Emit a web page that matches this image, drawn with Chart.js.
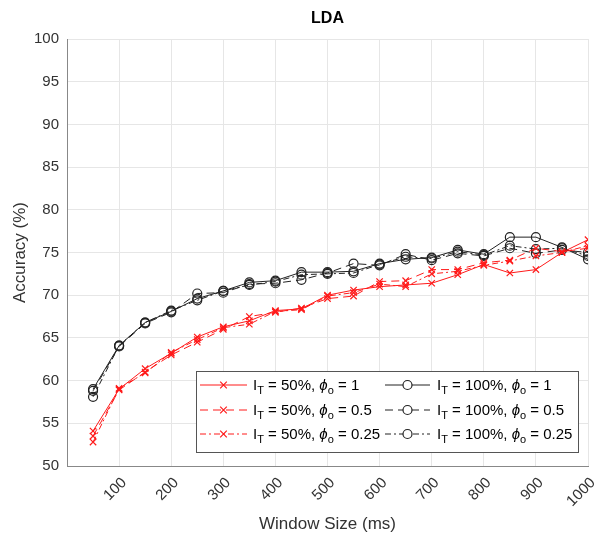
<!DOCTYPE html>
<html>
<head>
<meta charset="utf-8">
<script src="https://cdn.jsdelivr.net/npm/chart.js@4"></script>
<style>
  html, body { margin: 0; padding: 0; background: #fff; }
  #wrap { width: 598px; height: 541px; }
</style>
</head>
<body>
<div id="wrap"><canvas id="ldaChart"></canvas></div>
<script>
// Window sizes (ms)
const windowSizes = [50, 100, 150, 200, 250, 300, 350, 400, 450, 500,
  550, 600, 650, 700, 750, 800, 850, 900, 950, 1000];

// I_T = 50%
const red50_1 = [54.1, 59.0, 61.4, 63.2, 65.1, 66.3, 67.0, 68.2, 68.4, 70.0,
  70.6, 71.0, 71.2, 71.4, 72.4, 73.6, 72.6, 73.0, 75.0, 76.5];
const red50_05 = [53.5, 58.9, 61.0, 63.0, 64.5, 66.0, 67.5, 68.0, 68.5, 69.6,
  69.9, 71.6, 71.7, 73.0, 73.0, 73.8, 74.1, 75.5, 75.1, 75.5];
const red50_025 = [52.8, 59.1, 60.9, 63.3, 64.8, 66.2, 66.6, 68.1, 68.3, 69.9,
  70.3, 71.3, 71.0, 72.5, 72.8, 73.5, 74.0, 74.6, 75.0, 75.8];

// I_T = 100%
const blk100_1 = [59.0, 64.1, 66.8, 68.1, 69.6, 70.5, 71.5, 71.7, 72.7, 72.7,
  72.8, 73.7, 74.2, 74.4, 75.3, 74.8, 76.8, 76.8, 75.6, 74.2];
const blk100_05 = [58.8, 64.0, 66.7, 68.0, 70.2, 70.3, 71.3, 71.4, 71.8, 72.6,
  73.7, 73.5, 74.8, 74.1, 74.9, 74.6, 75.5, 74.9, 75.3, 75.0];
const blk100_025 = [58.1, 64.1, 66.8, 68.2, 69.4, 70.5, 71.2, 71.6, 72.4, 72.5,
  72.6, 73.6, 74.5, 74.3, 75.1, 74.7, 75.8, 75.4, 75.5, 74.6];

const xTicks = [100, 200, 300, 400, 500, 600, 700, 800, 900, 1000];

const FONT = "'Liberation Sans', Arial, Helvetica, sans-serif";
const RED = "#ff1a1a";
const BLACK = "#222222";

const seriesDefs = [
  { data: red50_1, color: RED, dash: [], marker: "crossRot", pct: "50%", phi: "1" },
  { data: red50_05, color: RED, dash: [8, 5], marker: "crossRot", pct: "50%", phi: "0.5" },
  { data: red50_025, color: RED, dash: [6, 3, 2, 3], marker: "crossRot", pct: "50%", phi: "0.25" },
  { data: blk100_1, color: BLACK, dash: [], marker: "circle", pct: "100%", phi: "1" },
  { data: blk100_05, color: BLACK, dash: [8, 5], marker: "circle", pct: "100%", phi: "0.5" },
  { data: blk100_025, color: BLACK, dash: [6, 3, 2, 3], marker: "circle", pct: "100%", phi: "0.25" },
];

const datasets = seriesDefs.map(function (s) {
  return {
    data: s.data.map(function (v, i) { return { x: windowSizes[i], y: v }; }),
    borderColor: s.color,
    borderWidth: 1,
    borderDash: s.dash,
    pointStyle: s.marker,
    pointRadius: 4.5,
    pointBorderColor: s.color,
    pointBackgroundColor: "rgba(0,0,0,0)",
    pointBorderWidth: 1.2,
    tension: 0,
    fill: false,
  };
});

// draws title and the MATLAB-style legend with subscripts
const decorPlugin = {
  id: "decor",
  afterDraw: function (chart) {
    const ctx = chart.ctx;
    const area = chart.chartArea;
    ctx.save();
    ctx.fillStyle = "#000";
    ctx.font = "bold 16px " + FONT;
    ctx.textAlign = "center";
    ctx.textBaseline = "middle";
    ctx.fillText("LDA", (area.left + area.right) / 2, 19);

    // legend box
    const bx = 196, by = 371, bw = 382, bh = 81;
    ctx.fillStyle = "#fff";
    ctx.fillRect(bx, by, bw, bh);
    ctx.strokeStyle = "#555";
    ctx.lineWidth = 1;
    ctx.setLineDash([]);
    ctx.strokeRect(bx + 0.5, by + 0.5, bw, bh);

    const rows = [385, 410, 434];
    const cols = [{ x0: 200, x1: 247, tx: 253 }, { x0: 385, x1: 430, tx: 437 }];
    seriesDefs.forEach(function (s, i) {
      const col = cols[Math.floor(i / 3)];
      const y = rows[i % 3];
      ctx.strokeStyle = s.color;
      ctx.lineWidth = 1;
      ctx.setLineDash(s.dash);
      ctx.beginPath();
      ctx.moveTo(col.x0, y);
      ctx.lineTo(col.x1, y);
      ctx.stroke();
      ctx.setLineDash([]);
      const mx = (col.x0 + col.x1) / 2;
      ctx.lineWidth = 1.2;
      if (s.marker === "circle") {
        ctx.fillStyle = "#fff";
        ctx.beginPath();
        ctx.arc(mx, y, 4.5, 0, Math.PI * 2);
        ctx.fill();
        ctx.stroke();
      } else {
        const r = 3.3;
        ctx.beginPath();
        ctx.moveTo(mx - r, y - r); ctx.lineTo(mx + r, y + r);
        ctx.moveTo(mx + r, y - r); ctx.lineTo(mx - r, y + r);
        ctx.stroke();
      }
      // text with subscripts
      ctx.fillStyle = "#000";
      ctx.textAlign = "left";
      ctx.textBaseline = "alphabetic";
      let x = col.tx;
      const base = y + 5;
      const part = function (txt, font, dy) {
        ctx.font = font;
        ctx.fillText(txt, x, base + dy);
        x += ctx.measureText(txt).width;
      };
      part("I", "15px " + FONT, 0);
      part("T", "11px " + FONT, 4);
      part(" = " + s.pct + ", ", "15px " + FONT, 0);
      part("\u03d5", "italic 15px " + FONT, 0);
      part("o", "11px " + FONT, 4);
      part(" = " + s.phi, "15px " + FONT, 0);
    });
    ctx.restore();
  },
};

document.addEventListener("DOMContentLoaded", function () {
  const ctx = document.getElementById("ldaChart").getContext("2d");
  new Chart(ctx, {
    type: "line",
    data: { datasets: datasets },
    options: {
      responsive: true,
      maintainAspectRatio: false,
      animation: false,
      layout: { padding: { top: 39, right: 10, bottom: 0, left: 0 } },
      plugins: {
        legend: { display: false },
        title: { display: false },
        tooltip: { enabled: false },
      },
      scales: {
        x: {
          type: "linear",
          min: 0,
          max: 1000,
          afterBuildTicks: function (axis) {
            axis.ticks = xTicks.map(function (v) { return { value: v }; });
          },
          afterFit: function (axis) {
            axis.height = 75;
            axis.paddingRight = 0;
            axis.paddingLeft = 0;
          },
          ticks: {
            minRotation: 45,
            maxRotation: 45,
            padding: 8,
            labelOffset: 5,
            color: "#333",
            font: { family: FONT, size: 15 },
            callback: function (v) { return String(v); },
          },
          grid: { color: "#e6e6e6", drawTicks: false },
          border: { color: "#888" },
          title: {
            display: true,
            text: "Window Size (ms)",
            color: "#333",
            font: { family: FONT, size: 17 },
            padding: { top: 0, bottom: 6 },
          },
        },
        y: {
          min: 50,
          max: 100,
          afterFit: function (axis) { axis.width = 67; },
          ticks: {
            stepSize: 5,
            padding: 8,
            color: "#333",
            font: { family: FONT, size: 15 },
          },
          grid: { color: "#e6e6e6", drawTicks: false },
          border: { color: "#888" },
          title: {
            display: true,
            text: "Accuracy (%)",
            color: "#333",
            font: { family: FONT, size: 17 },
            padding: { top: 10, bottom: 0 },
          },
        },
      },
    },
    plugins: [decorPlugin],
  });
});
</script>
</body>
</html>
